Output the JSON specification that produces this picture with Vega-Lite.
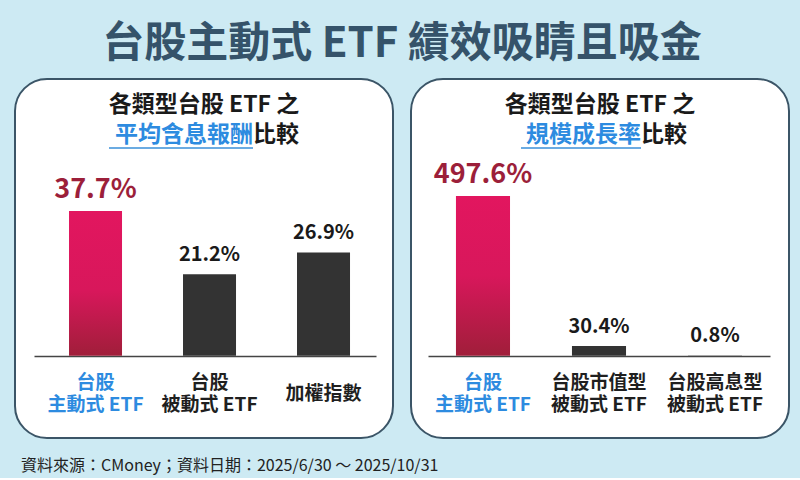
{
  "$schema": "https://vega.github.io/schema/vega-lite/v6.json",
  "background": "#cdeaf3",
  "padding": {"left": 14, "right": 14, "top": 23, "bottom": 4},
  "title": {"text": "台股主動式 ETF 績效吸睛且吸金", "fontSize": 42, "fontWeight": "bold", "color": "#35536a", "font": "Noto Sans CJK TC", "anchor": "middle", "offset": 12},
  "config": {
    "font": "Noto Sans CJK TC",
    "view": {"fill": "white", "stroke": "#3b5567", "strokeWidth": 2, "cornerRadius": 32}
  },
  "vconcat": [
    {
      "title": {"text": "資料來源：CMoney；資料日期：2025/6/30 ～ 2025/10/31", "orient": "bottom", "anchor": "start", "fontSize": 16, "fontWeight": "normal", "color": "#222222", "offset": 19, "dx": 7, "font": "Noto Sans CJK TC"},
      "spacing": 16,
      "hconcat": [
        {
          "width": 378,
          "height": 359,
          "title": {"text": "各類型台股 ETF 之", "offset": -38, "fontSize": 23, "fontWeight": "bold", "color": "#1a1a1a", "anchor": "middle", "font": "Noto Sans CJK TC"},
          "data": {"values": [
            {"cat": "台股\n主動式 ETF", "kind": "active", "v": 0.377},
            {"cat": "台股\n被動式 ETF", "kind": "passive", "v": 0.212},
            {"cat": "加權指數", "kind": "index", "v": 0.269}
          ]},
          "layer": [
            {
              "transform": [{"filter": "datum.kind === 'active'"}],
              "mark": {"type": "bar", "fill": {"gradient": "linear", "x1": 0, "y1": 0, "x2": 0, "y2": 1, "stops": [{"offset": 0, "color": "#e2165f"}, {"offset": 0.55, "color": "#d8175b"}, {"offset": 1, "color": "#a01e3a"}]}},
              "encoding": {
                "x": {"field": "cat", "type": "nominal", "sort": null,
                  "scale": {"range": [19, 361], "paddingInner": 0.535, "paddingOuter": 0.2675, "align": 0.574},
                  "axis": {"title": null, "orient": "bottom", "offset": -82, "domainColor": "#444444", "domainWidth": 1.5, "ticks": false, "tickSize": 0, "labelAngle": 0, "labelFont": "Noto Sans CJK TC", "labelFontSize": 19, "labelFontWeight": "bold", "labelColor": {"condition": {"test": "datum.index === 0", "value": "#2d8be0"}, "value": "#1f1f1f"}, "labelExpr": "split(datum.label, '\\n')", "labelBaseline": "middle", "labelPadding": {"condition": {"test": "indexof(datum.value, '\\n') >= 0", "value": 26}, "value": 37}, "labelLineHeight": 22}},
                "y": {"field": "v", "type": "quantitative", "scale": {"domain": [-0.2144, 0.7209], "nice": false, "zero": false}, "axis": null}
              }
            },
            {
              "transform": [{"filter": "datum.kind !== 'active'"}],
              "mark": {"type": "bar", "color": "#333333"},
              "encoding": {
                "x": {"field": "cat", "type": "nominal", "sort": null},
                "y": {"field": "v", "type": "quantitative"}
              }
            },
            {
              "transform": [{"filter": "datum.kind === 'active'"}],
              "mark": {"type": "text", "baseline": "bottom", "dy": -7, "fontSize": 27, "fontWeight": "bold", "color": "#9c1f3a"},
              "encoding": {
                "x": {"field": "cat", "type": "nominal", "sort": null},
                "y": {"field": "v", "type": "quantitative"},
                "text": {"field": "v", "type": "quantitative", "format": ".1%"}
              }
            },
            {
              "transform": [{"filter": "datum.kind !== 'active'"}],
              "mark": {"type": "text", "baseline": "bottom", "dy": -9, "fontSize": 20, "fontWeight": "bold", "color": "#1a1a1a"},
              "encoding": {
                "x": {"field": "cat", "type": "nominal", "sort": null},
                "y": {"field": "v", "type": "quantitative"},
                "text": {"field": "v", "type": "quantitative", "format": ".1%"}
              }
            },
            {
              "data": {"values": [{"t": "平均含息報酬"}]},
              "mark": {"type": "text", "align": "right", "baseline": "middle", "x": 238, "fontSize": 23, "fontWeight": "bold", "color": "#2d8be0"},
              "encoding": {"y": {"datum": 0.574}, "text": {"field": "t"}}
            },
            {
              "data": {"values": [{"t": "比較"}]},
              "mark": {"type": "text", "align": "left", "baseline": "middle", "x": 238, "fontSize": 23, "fontWeight": "bold", "color": "#1a1a1a"},
              "encoding": {"y": {"datum": 0.574}, "text": {"field": "t"}}
            },
            {
              "data": {"values": [{"t": "u"}]},
              "mark": {"type": "rule", "x": 94, "x2": 238, "color": "#3a8fd8", "strokeWidth": 1.5},
              "encoding": {"y": {"datum": 0.541}}
            }
          ]
        },
        {
          "width": 378,
          "height": 359,
          "title": {"text": "各類型台股 ETF 之", "offset": -38, "fontSize": 23, "fontWeight": "bold", "color": "#1a1a1a", "anchor": "middle", "font": "Noto Sans CJK TC"},
          "data": {"values": [
            {"cat": "台股\n主動式 ETF", "kind": "active", "v": 4.976},
            {"cat": "台股市值型\n被動式 ETF", "kind": "passive", "v": 0.304},
            {"cat": "台股高息型\n被動式 ETF", "kind": "passive", "v": 0.008}
          ]},
          "layer": [
            {
              "transform": [{"filter": "datum.kind === 'active'"}],
              "mark": {"type": "bar", "fill": {"gradient": "linear", "x1": 0, "y1": 0, "x2": 0, "y2": 1, "stops": [{"offset": 0, "color": "#e2165f"}, {"offset": 0.5, "color": "#d8175b"}, {"offset": 1, "color": "#a01e3a"}]}},
              "encoding": {
                "x": {"field": "cat", "type": "nominal", "sort": null,
                  "scale": {"range": [17, 359], "paddingInner": 0.534, "paddingOuter": 0.241, "align": 0.5},
                  "axis": {"title": null, "orient": "bottom", "offset": -82, "domainColor": "#444444", "domainWidth": 1.5, "ticks": false, "tickSize": 0, "labelAngle": 0, "labelFont": "Noto Sans CJK TC", "labelFontSize": 19, "labelFontWeight": "bold", "labelColor": {"condition": {"test": "datum.index === 0", "value": "#2d8be0"}, "value": "#1f1f1f"}, "labelExpr": "split(datum.label, '\\n')", "labelBaseline": "middle", "labelPadding": 26, "labelLineHeight": 22}},
                "y": {"field": "v", "type": "quantitative", "scale": {"domain": [-2.565, 8.622], "nice": false, "zero": false}, "axis": null}
              }
            },
            {
              "transform": [{"filter": "datum.kind !== 'active'"}],
              "mark": {"type": "bar", "color": "#333333"},
              "encoding": {
                "x": {"field": "cat", "type": "nominal", "sort": null},
                "y": {"field": "v", "type": "quantitative"}
              }
            },
            {
              "transform": [{"filter": "datum.kind === 'active'"}],
              "mark": {"type": "text", "baseline": "bottom", "dy": -7, "fontSize": 27, "fontWeight": "bold", "color": "#9c1f3a"},
              "encoding": {
                "x": {"field": "cat", "type": "nominal", "sort": null},
                "y": {"field": "v", "type": "quantitative"},
                "text": {"field": "v", "type": "quantitative", "format": ".1%"}
              }
            },
            {
              "transform": [{"filter": "datum.kind !== 'active'"}],
              "mark": {"type": "text", "baseline": "bottom", "dy": -9, "fontSize": 20, "fontWeight": "bold", "color": "#1a1a1a"},
              "encoding": {
                "x": {"field": "cat", "type": "nominal", "sort": null},
                "y": {"field": "v", "type": "quantitative"},
                "text": {"field": "v", "type": "quantitative", "format": ".1%"}
              }
            },
            {
              "data": {"values": [{"t": "規模成長率"}]},
              "mark": {"type": "text", "align": "right", "baseline": "middle", "x": 230, "fontSize": 23, "fontWeight": "bold", "color": "#2d8be0"},
              "encoding": {"y": {"datum": 6.865}, "text": {"field": "t"}}
            },
            {
              "data": {"values": [{"t": "比較"}]},
              "mark": {"type": "text", "align": "left", "baseline": "middle", "x": 230, "fontSize": 23, "fontWeight": "bold", "color": "#1a1a1a"},
              "encoding": {"y": {"datum": 6.865}, "text": {"field": "t"}}
            },
            {
              "data": {"values": [{"t": "u"}]},
              "mark": {"type": "rule", "x": 110, "x2": 230, "color": "#3a8fd8", "strokeWidth": 1.5},
              "encoding": {"y": {"datum": 6.47}}
            }
          ]
        }
      ]
    }
  ]
}
